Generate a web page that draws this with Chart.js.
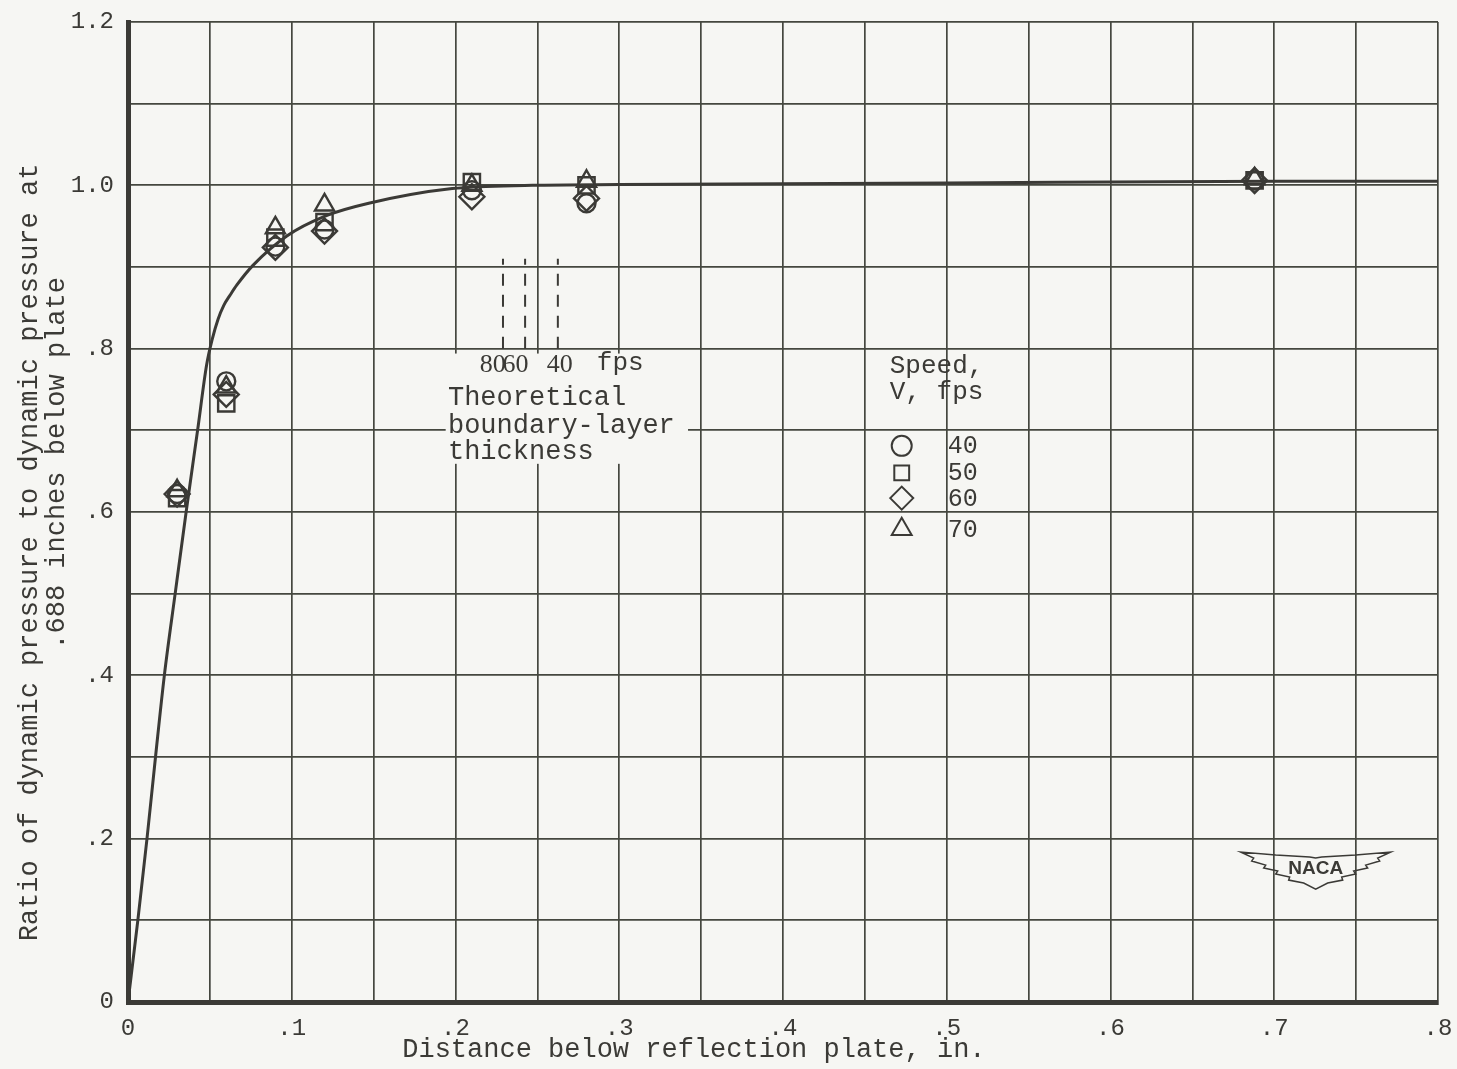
<!DOCTYPE html>
<html>
<head>
<meta charset="utf-8">
<script src="https://cdn.jsdelivr.net/npm/chart.js@4.4.1/dist/chart.umd.min.js"></script>
<style>
  html, body { margin: 0; padding: 0; background: #f6f6f3; }
  #wrap { width: 1457px; height: 1069px; position: relative; }
</style>
</head>
<body>
<div id="wrap"><canvas id="qRatioChart"></canvas></div>
<script>
// measured points, distance in inches below reflection plate
const distance = [0.03, 0.06, 0.09, 0.12, 0.21, 0.28, 0.688];
const ratio40 = [0.622, 0.760, 0.925, 0.946, 0.994, 0.978, 1.006];
const ratio50 = [0.617, 0.733, 0.936, 0.955, 1.004, 1.000, 1.006];
const ratio60 = [0.622, 0.744, 0.924, 0.944, 0.986, 0.984, 1.006];
const ratio70 = [0.626, 0.753, 0.948, 0.976, 1.000, 1.005, 1.008];

// faired curve
const fairedX = [0, 0.006, 0.0116, 0.0168, 0.0222, 0.0288, 0.0355, 0.0425, 0.048, 0.0515, 0.055, 0.0585, 0.0625, 0.0665, 0.0763, 0.097, 0.12, 0.147, 0.198, 0.247, 0.3, 0.5, 0.7, 0.8];
const fairedY = [0, 0.1, 0.2, 0.3, 0.4, 0.5, 0.6, 0.7, 0.78, 0.812, 0.836, 0.853, 0.866, 0.878, 0.902, 0.938, 0.962, 0.978, 0.996, 1.0, 1.001, 1.003, 1.005, 1.005];

// theoretical boundary-layer thickness marks
const blSpeeds = ['80', '60', '40'];
const blThickness = [0.229, 0.2425, 0.2625];
const blRange = [0.80, 0.91];

const speeds = ['40', '50', '60', '70'];
const xTickLabels = ['0', '.1', '.2', '.3', '.4', '.5', '.6', '.7', '.8'];
const yTickLabels = ['0', '.2', '.4', '.6', '.8', '1.0', '1.2'];

const paper = '#f6f6f3';
const ink = '#3b3a36';
const gridInk = '#45473f';
const mono = '"Liberation Mono", "DejaVu Sans Mono", monospace';

const pts = (xs, ys) => xs.map((v, i) => ({ x: v, y: ys[i] }));

const markerStyles = [
    { style: 'circle', r: 9, lr: 10 },
    { style: 'rect', r: 11.5, lr: 10.5 },
    { style: 'rectRot', r: 12.5, lr: 11.5 },
    { style: 'triangle', r: 11, lr: 11.5 }
];
const seriesValues = [ratio40, ratio50, ratio60, ratio70];

const markerSets = seriesValues.map((vals, i) => ({
    label: speeds[i] + ' fps',
    type: 'scatter',
    data: pts(distance, vals),
    pointStyle: markerStyles[i].style,
    pointRadius: markerStyles[i].r,
    pointBorderWidth: 2.4,
    pointBorderColor: ink,
    pointBackgroundColor: 'rgba(0,0,0,0)',
    showLine: false
}));

const blSets = blThickness.map((v, i) => ({
    label: blSpeeds[i] + ' fps thickness',
    type: 'line',
    data: [{ x: v, y: blRange[0] }, { x: v, y: blRange[1] }],
    borderColor: ink,
    borderWidth: 2,
    borderDash: [12, 9],
    pointRadius: 0
}));

const notes = {
    id: 'notes',
    beforeDatasetsDraw(chart) {
        const { ctx, scales: { x, y } } = chart;
        // blank patch of paper behind the boundary-layer note
        const l = x.getPixelForValue(0.194), r = x.getPixelForValue(0.342);
        const t = y.getPixelForValue(0.794), b = y.getPixelForValue(0.659);
        ctx.save();
        ctx.fillStyle = paper;
        ctx.fillRect(l, t, r - l, b - t);
        ctx.restore();
    },
    afterDatasetsDraw(chart) {
        const { ctx, scales: { x, y } } = chart;
        ctx.save();
        ctx.fillStyle = ink;
        ctx.textBaseline = 'middle';

        // speed labels under the dashes
        ctx.font = '26px "Liberation Serif", serif';
        ctx.textAlign = 'center';
        const blLabelX = [0.2228, 0.2366, 0.2637];
        blSpeeds.forEach((s, i) => ctx.fillText(s, x.getPixelForValue(blLabelX[i]), y.getPixelForValue(0.780)));
        ctx.font = '26px ' + mono;
        ctx.textAlign = 'left';
        ctx.fillText('fps', x.getPixelForValue(0.2863), y.getPixelForValue(0.782));

        ctx.font = '27px ' + mono;
        ['Theoretical', 'boundary-layer', 'thickness'].forEach((line, i) => {
            ctx.fillText(line, x.getPixelForValue(0.1954), y.getPixelForValue([0.740, 0.706, 0.674][i]));
        });

        // legend
        ctx.font = '26px ' + mono;
        ctx.fillText('Speed,', x.getPixelForValue(0.4652), y.getPixelForValue(0.779));
        ctx.fillText('V, fps', x.getPixelForValue(0.4652), y.getPixelForValue(0.747));
        const rows = [0.681, 0.648, 0.617, 0.579];
        ctx.font = '25px ' + mono;
        speeds.forEach((s, i) => {
            const py = y.getPixelForValue(rows[i]);
            ctx.fillStyle = 'rgba(0,0,0,0)';
            ctx.strokeStyle = ink;
            ctx.lineWidth = 2;
            Chart.helpers.drawPoint(ctx, {
                pointStyle: markerStyles[i].style,
                radius: markerStyles[i].lr,
                rotation: 0,
                borderWidth: 2
            }, x.getPixelForValue(0.4725), py);
            ctx.fillStyle = ink;
            ctx.fillText(s, x.getPixelForValue(0.5006), py + 1);
        });

        // NACA wings
        const cx = x.getPixelForValue(0.7253), cy = y.getPixelForValue(0.164);
        const half = [[-6, -11], [-40, -13], [-75, -16], [-62, -10], [-64, -7], [-50, -3], [-52, 0],
            [-38, 3], [-40, 6], [-26, 9], [-27, 12], [-12, 15], [0, 21]];
        ctx.beginPath();
        ctx.moveTo(cx, cy - 10);
        half.forEach(p => ctx.lineTo(cx + p[0], cy + p[1]));
        half.slice().reverse().forEach(p => ctx.lineTo(cx - p[0], cy + p[1]));
        ctx.closePath();
        ctx.strokeStyle = ink;
        ctx.lineWidth = 1.5;
        ctx.stroke();
        ctx.font = 'bold 19px "Liberation Sans", sans-serif';
        ctx.textAlign = 'center';
        ctx.fillText('NACA', cx, cy + 1);
        ctx.restore();
    }
};

const ctx = document.getElementById('qRatioChart').getContext('2d');

window.qRatioChart = new Chart(ctx, {
    type: 'scatter',
    data: {
        datasets: [
            ...markerSets,
            {
                label: 'Faired curve',
                type: 'line',
                data: pts(fairedX, fairedY),
                borderColor: ink,
                borderWidth: 3,
                pointRadius: 0,
                cubicInterpolationMode: 'monotone'
            },
            ...blSets
        ]
    },
    options: {
        responsive: true,
        maintainAspectRatio: false,
        animation: false,
        layout: { padding: { top: 22, right: 19, left: 0, bottom: 0 } },
        plugins: {
            legend: { display: false },
            tooltip: { enabled: false }
        },
        scales: {
            x: {
                type: 'linear',
                min: 0,
                max: 0.8,
                afterFit: (scale) => {
                    scale.height = 67;
                    scale.paddingLeft = 0;
                    scale.paddingRight = 0;
                },
                ticks: {
                    stepSize: 0.05,
                    maxTicksLimit: 30,
                    autoSkip: false,
                    maxRotation: 0,
                    padding: 12,
                    color: ink,
                    font: { family: mono, size: 24 },
                    callback: (v) => {
                        const k = Math.round(v * 10);
                        return Math.abs(v * 10 - k) < 1e-6 ? xTickLabels[k] : '';
                    }
                },
                grid: { color: gridInk, lineWidth: 1.7, drawTicks: false },
                border: { display: true, width: 5, color: ink },
                title: {
                    display: true,
                    text: 'Distance below reflection plate, in.' + ' '.repeat(11),
                    color: ink,
                    font: { family: mono, size: 27, lineHeight: 1 },
                    padding: { top: 0, bottom: 6 }
                }
            },
            y: {
                min: 0,
                max: 1.2,
                afterFit: (scale) => {
                    scale.width = 128;
                    scale.paddingTop = 0;
                    scale.paddingBottom = 0;
                },
                ticks: {
                    stepSize: 0.1,
                    maxTicksLimit: 30,
                    autoSkip: false,
                    padding: 14,
                    color: ink,
                    font: { family: mono, size: 24 },
                    callback: (v) => {
                        const k = Math.round(v * 5);
                        return Math.abs(v * 5 - k) < 1e-6 ? yTickLabels[k] : '';
                    }
                },
                grid: { color: gridInk, lineWidth: 1.7, drawTicks: false },
                border: { display: true, width: 5, color: ink },
                title: {
                    display: true,
                    text: [
                        'Ratio of dynamic pressure to dynamic pressure at' + ' '.repeat(5),
                        ' '.repeat(6) + '.688 inches below plate'
                    ],
                    color: ink,
                    font: { family: mono, size: 27, lineHeight: 1 },
                    padding: { top: 16, bottom: 0 }
                }
            }
        }
    },
    plugins: [notes]
});
</script>
</body>
</html>
